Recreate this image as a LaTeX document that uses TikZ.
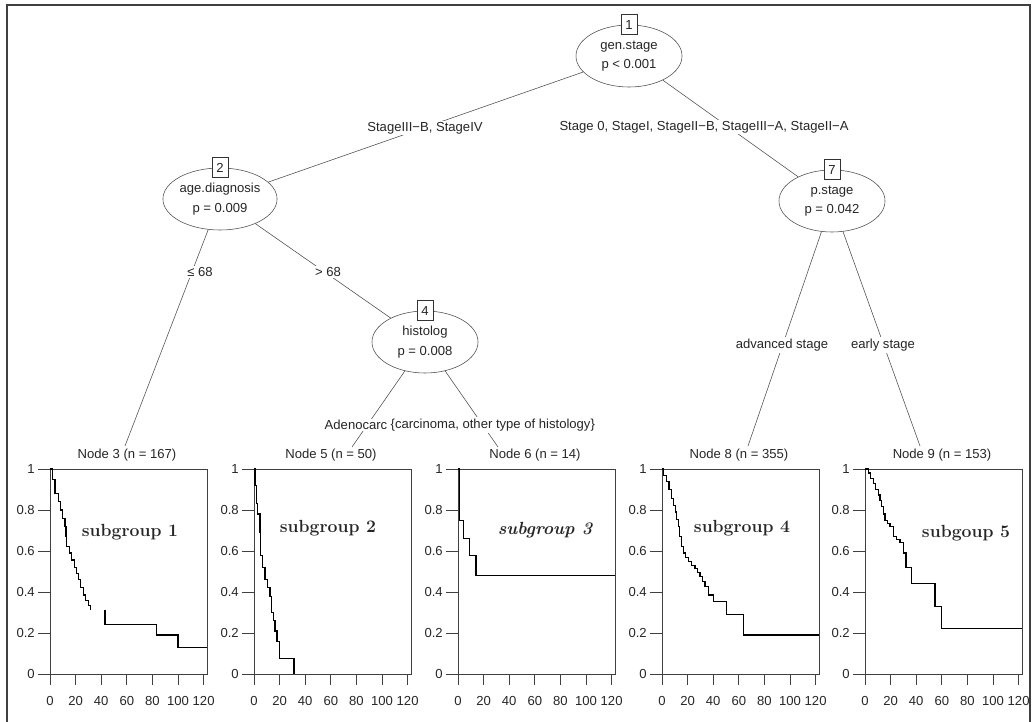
\documentclass[tikz,border=0pt]{standalone}
\usepackage{fontspec}
\setsansfont{Liberation Sans}
\usepackage{tikz}
\usetikzlibrary{shapes.geometric}

\newcommand{\treefont}{\sffamily\fontsize{9.3}{14}\selectfont}
\newcommand{\kmpanel}[4]{%
  \node[ptitle] (#1) at (#2+77,455) {#3};
  \begin{scope}[shift={(#2,674)},x=0.032cm,y=5.125cm]
    \draw[kmbox] (0,0) rectangle (122.66,1);
    \foreach \v in {0,0.2,0.4,0.6,0.8,1}
      \draw[kmbox] (0,\v) -- (-9.4,\v) node[left,tick] {\v};
    \foreach \t in {0,20,...,120}{
      \draw[kmbox] (\t,0) -- (\t,-0.054);
      \node[tick] at (\t,-0.132) {\t};}
    \draw[kmcurve] #4;
  \end{scope}}

\begin{document}
\begin{tikzpicture}[x=0.025cm,y=-0.025cm]
\tikzstyle{split}=[ellipse, draw=black!70, thin, minimum width=2.65cm, minimum height=1.55cm, inner sep=0pt, align=center, font=\treefont, text=black!85]
\tikzstyle{idbox}=[draw=black!80, thin, fill=white, minimum width=0.4cm, minimum height=0.5cm, inner sep=0pt, font=\treefont, text=black!85]
\tikzstyle{elabel}=[fill=white, inner sep=1pt, font=\treefont, text=black!85]
\tikzstyle{ptitle}=[inner sep=1pt, font=\treefont, text=black!85]
\tikzstyle{tick}=[inner sep=2pt, font=\treefont, text=black!85]
\tikzstyle{edge}=[black!70, thin]
\tikzstyle{kmbox}=[black!75, line width=0.6pt]
\tikzstyle{kmcurve}=[black, line width=0.8pt]
\tikzstyle{subgrp}=[font=\bfseries\fontsize{12.5}{14}\selectfont, text=black!85]

\useasboundingbox (0,0) rectangle (1035,722);
\draw[black!75, line width=1.2pt] (7,722) -- (7,5) -- (1030,5) -- (1030,722);

\node[split] (n1) at (629,56) {gen.stage\\p < 0.001};
\node[idbox] (b1) at (n1.north) {1};
\node[split] (n2) at (220,199) {age.diagnosis\\p = 0.009};
\node[idbox] (b2) at (n2.north) {2};
\node[split] (n4) at (425,342) {histolog\\p = 0.008};
\node[idbox] (b4) at (n4.north) {4};
\node[split] (n7) at (832,201) {p.stage\\p = 0.042};
\node[idbox] (b7) at (n7.north) {7};

\coordinate (e3) at (125,446);
\coordinate (e5) at (352,447);
\coordinate (e6) at (498,447);
\coordinate (e8) at (748,446);
\coordinate (e9) at (920,446);

\draw[edge] (n1) -- (n2);
\draw[edge] (n1) -- (n7);
\draw[edge] (n2) -- (e3);
\draw[edge] (n2) -- (n4);
\draw[edge] (n4) -- (e5);
\draw[edge] (n4) -- (e6);
\draw[edge] (n7) -- (e8);
\draw[edge] (n7) -- (e9);

\node[elabel] (l12) at (425,128) {StageIII−B, StageIV};
\node[elabel] (l17) at (704,127) {Stage 0, StageI, StageII−B, StageIII−A, StageII−A};
\node[elabel] (l23) at (200,272) {≤ 68};
\node[elabel] (l24) at (328,272) {> 68};
\node[elabel] (l45) at (356,425) {Adenocarc};
\node[elabel, anchor=west] (l46) at (l45.east) {\{carcinoma, other type of histology\}};
\node[elabel] (l78) at (782,345) {advanced stage};
\node[elabel] (l79) at (883,345) {early stage};

\kmpanel{t3}{50}{Node 3 (n = 167)}{(0,1) -| (2,0.95) -| (3.9,0.88) -| (6.5,0.84) -| (8,0.80) -| (10,0.76) -| (11.7,0.72) -| (12.5,0.67) -| (13,0.62) -| (15,0.59) -| (17,0.556) -| (19,0.52) -| (20.5,0.49) -| (22,0.46) -| (24,0.42) -| (26,0.385) -| (28,0.36) -| (30,0.335) -| (31.8,0.31) (43,0.31) -- (43,0.24) -| (83,0.19) -| (100,0.13) -- (122.66,0.13)}
\kmpanel{t5}{254}{Node 5 (n = 50)}{(0,1) -| (0.8,0.92) -| (2,0.83) -| (3,0.78) -| (4.7,0.69) -| (5.2,0.58) -| (6.5,0.52) -| (8.6,0.46) -| (10.5,0.42) -| (12.5,0.38) -| (13.8,0.30) -| (15,0.26) -| (16.4,0.21) -| (18,0.16) -| (19.8,0.077) -| (31.2,0)}
\kmpanel{t6}{458}{Node 6 (n = 14)}{(0,1) -| (1,0.75) -| (4.2,0.66) -| (8.8,0.58) -| (14.1,0.48) -- (122.66,0.48)}
\kmpanel{t8}{662}{Node 8 (n = 355)}{(0,1) -| (1.5,0.97) -| (3.6,0.94) -| (5.5,0.90) -| (7.6,0.857) -| (9,0.82) -| (10.2,0.79) -| (11.5,0.755) -| (12.8,0.72) -| (14,0.67) -| (15.4,0.62) -| (17,0.59) -| (18.5,0.57) -| (20.6,0.55) -| (23,0.53) -| (25.8,0.515) -| (27.5,0.495) -| (29.7,0.475) -| (31.5,0.45) -| (33.6,0.426) -| (36.2,0.385) -| (40.1,0.353) -| (50.5,0.29) -| (63.5,0.19) -- (122.66,0.19)}
\kmpanel{t9}{865}{Node 9 (n = 153)}{(0,1) -| (2.6,0.98) -| (4.5,0.955) -| (6.5,0.93) -| (8.5,0.90) -| (10.4,0.873) -| (11.7,0.845) -| (13,0.816) -| (14.3,0.78) -| (15.6,0.75) -| (17.5,0.735) -| (19.5,0.72) -| (22.1,0.67) -| (24.5,0.655) -| (27.3,0.64) -| (29.9,0.59) -| (32,0.52) -| (36.5,0.44) -| (54.7,0.33) -| (59.9,0.22) -- (122.66,0.22)}

\node[subgrp] (s1) at (130,532) {subgroup 1};
\node[subgrp] (s2) at (328,528) {subgroup 2};
\node[subgrp, font=\bfseries\itshape\fontsize{12.5}{14}\selectfont] (s3) at (545,530) {subgroup 3};
\node[subgrp] (s4) at (742,528) {subgroup 4};
\node[subgrp] (s5) at (966,533) {subgoup 5};
\end{tikzpicture}
\end{document}
